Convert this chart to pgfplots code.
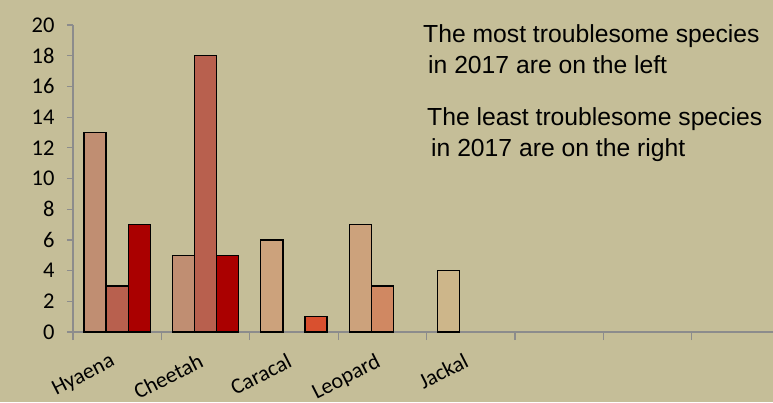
\documentclass[border=0pt]{standalone}
\usepackage{pgfplots}
\pgfplotsset{compat=1.18}
\usepackage{fontspec}
\setmainfont{Liberation Sans}
\newfontfamily\calibri{Carlito}
\definecolor{bg}{HTML}{C5BE98}
\definecolor{axgray}{HTML}{8C8C8C}
\definecolor{cA}{HTML}{C08E72}
\definecolor{cB}{HTML}{B8604E}
\definecolor{cC}{HTML}{AA0000}
\definecolor{cD}{HTML}{CCA27C}
\definecolor{cE}{HTML}{D9502F}
\definecolor{cF}{HTML}{D08862}
\definecolor{cG}{HTML}{CDB68A}
\begin{document}
\begin{tikzpicture}[x=1pt,y=1pt]
\fill[bg] (-73,-70) rectangle (700,332);
\begin{axis}[
  at={(0,0)}, anchor=south west,
  scale only axis, width=700pt, height=307pt,
  xmin=-0.5, xmax=7.42, ymin=0, ymax=20,
  axis x line=bottom, axis y line=left,
  axis line style={axgray, line width=1.2pt, -},
  ybar, bar width=0.25,
  ytick={0,2,...,20},
  xtick={0,1,2,3,4},
  xticklabels={Hyaena,Cheetah,Caracal,Leopard,Jackal},
  minor xtick={-0.5,0.5,...,6.5},
  major x tick style={draw=none},
  minor x tick style={axgray, line width=1.2pt},
  y tick style={axgray, line width=1.2pt},
  tick align=outside,
  major tick length=6pt, minor tick length=8pt,
  /pgf/number format/assume math mode=true,
  yticklabel style={font=\calibri\fontsize{22.5}{24}\selectfont, text=black, xshift=-9pt},
  xticklabel style={font=\calibri\fontsize{22}{24}\selectfont, text=black, rotate=27, anchor=north east, xshift=-10pt, yshift=-6pt},
]
\addplot[draw=black, line width=1.3pt, fill=cA, bar shift=-0.25] coordinates {(0,13) (1,5)};
\addplot[draw=black, line width=1.3pt, fill=cB, bar shift=0] coordinates {(0,3) (1,18)};
\addplot[draw=black, line width=1.3pt, fill=cC, bar shift=0.25] coordinates {(0,7) (1,5)};
\addplot[draw=black, line width=1.3pt, fill=cD, bar shift=-0.25] coordinates {(2,6) (3,7)};
\addplot[draw=black, line width=1.3pt, fill=cE, bar shift=0.25] coordinates {(2,1)};
\addplot[draw=black, line width=1.3pt, fill=cF, bar shift=0] coordinates {(3,3)};
\addplot[draw=black, line width=1.3pt, fill=cG, bar shift=-0.25] coordinates {(4,4)};
\end{axis}
\begin{scope}[every node/.style={inner sep=0pt, anchor=base west, font=\fontsize{24.7}{28}\selectfont}]
\node at (350,289) {The most troublesome species};
\node at (355,258) {in 2017 are on the left};
\node at (354,207) {The least troublesome species};
\node at (358,176) {in 2017 are on the right};
\end{scope}
\pgfresetboundingbox
\path[use as bounding box] (-73,-70) rectangle (700,332);
\end{tikzpicture}
\end{document}
